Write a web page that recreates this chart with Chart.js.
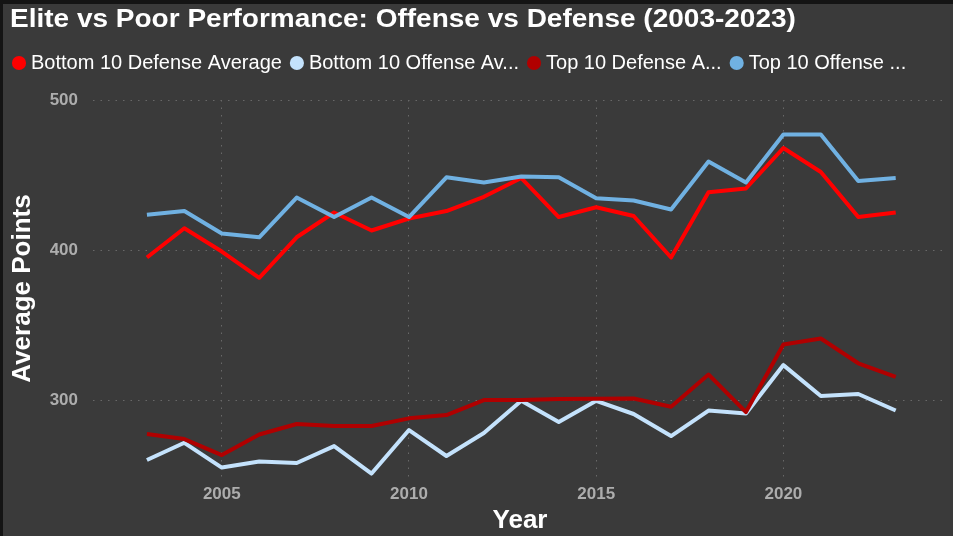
<!DOCTYPE html>
<html>
<head>
<meta charset="utf-8">
<script src="https://cdn.jsdelivr.net/npm/chart.js@4/dist/chart.umd.min.js"></script>
<style>
  body { margin: 0; background: #141414; }
  #wrap { position: relative; width: 953px; height: 536px; overflow: hidden; }
  #panel { position: absolute; left: 3px; top: 4px; right: 0; bottom: 0; background: #3a3a3a; }
  #chart { position: absolute; left: 0; top: 0; }
  #title {
    position: absolute; left: 10px; top: 4px;
    font: bold 25px "Liberation Sans", Arial, sans-serif;
    color: #ffffff; white-space: nowrap;
    transform: scaleX(1.12); transform-origin: left top;
  }
</style>
</head>
<body>
<div id="wrap">
  <div id="panel"></div>
  <canvas id="chart" width="953" height="536"></canvas>
  <div id="title">Elite vs Poor Performance: Offense vs Defense (2003-2023)</div>
</div>
<script>
// ===============================
// DATA
// ===============================
const years = [
  2003, 2004, 2005, 2006, 2007, 2008, 2009, 2010, 2011, 2012, 2013,
  2014, 2015, 2016, 2017, 2018, 2019, 2020, 2021, 2022, 2023,
];

const bottom10Defense = [
  395, 414.5, 399, 381.5, 408.5, 425, 413, 421, 426, 435.5, 448,
  422, 428.5, 422.7, 395, 438.5, 441, 468, 452, 422, 425,
];
const bottom10Offense = [
  260, 271.5, 255, 259, 258, 269.3, 251, 280, 262.7, 278, 299.5,
  285.3, 299.5, 290.7, 276, 293, 291, 323.3, 302.7, 304, 293,
];
const top10Defense = [
  277.3, 274, 263.3, 277, 284, 282.7, 282.7, 287.8, 290, 300, 300,
  300.7, 300.9, 301, 295.5, 317, 292, 337, 341, 324.5, 315.5,
];
const top10Offense = [
  423.5, 426, 411, 408.5, 435, 422, 435, 422, 448.5, 445, 449,
  448.5, 434.5, 433, 427, 459, 445, 477, 477, 446, 448,
];

const seriesNames = [
  "Bottom 10 Defense Average",
  "Bottom 10 Offense Average",
  "Top 10 Defense Average",
  "Top 10 Offense Average",
];
// legend shows the names cut short, like the original
const legendText = [
  "Bottom 10 Defense Average",
  "Bottom 10 Offense Av...",
  "Top 10 Defense A...",
  "Top 10 Offense ...",
];
const seriesColors = ["#ff0000", "#c4e2fc", "#b00000", "#70b1e2"];

const xTicks = [2005, 2010, 2015, 2020];
const yTicks = [300, 400, 500];

// ===============================
// CHART
// ===============================
const FONT = '"Liberation Sans", Arial, sans-serif';
const GRID = "#686868";

const allSeries = [bottom10Defense, bottom10Offense, top10Defense, top10Offense];

const datasets = allSeries.map((vals, i) => ({
  label: seriesNames[i],
  data: years.map((yr, j) => ({ x: yr, y: vals[j] })),
  borderColor: seriesColors[i],
  backgroundColor: seriesColors[i],
  borderWidth: 4,
  pointRadius: 0,
  tension: 0,
  borderJoinStyle: "round",
  order: allSeries.length - i,
}));

// push the plot down below the legend
const legendGap = {
  id: "legendGap",
  beforeInit(chart) {
    const fit = chart.legend.fit;
    chart.legend.fit = function () {
      fit.bind(chart.legend)();
      this.height += 17;
    };
  },
};

new Chart(document.getElementById("chart"), {
  type: "line",
  data: { datasets },
  plugins: [legendGap],
  options: {
    responsive: false,
    animation: false,
    layout: { padding: { left: 4, top: 40, right: 6, bottom: 0 } },
    plugins: {
      tooltip: { enabled: false },
      legend: {
        position: "top",
        align: "start",
        labels: {
          usePointStyle: true,
          boxWidth: 4,
          boxHeight: 10,
          padding: 13,
          color: "#ffffff",
          font: { family: FONT, size: 20 },
          generateLabels: (chart) =>
            chart.data.datasets.map((ds, i) => ({
              text: legendText[i],
              fillStyle: ds.borderColor,
              strokeStyle: ds.borderColor,
              lineWidth: 0,
              pointStyle: "circle",
              hidden: false,
              datasetIndex: i,
              fontColor: "#ffffff",
            })),
        },
      },
    },
    scales: {
      x: {
        type: "linear",
        min: 2001.56,
        max: 2024.37,
        afterBuildTicks: (axis) => {
          axis.ticks = xTicks.map((v) => ({ value: v }));
        },
        afterFit: (axis) => {
          axis.height = 59;
        },
        ticks: {
          color: "#adadad",
          padding: 7,
          font: { family: FONT, size: 17, weight: "bold" },
          callback: (v) => String(v),
        },
        grid: {
          color: GRID,
          drawTicks: false,
        },
        border: { display: false, dash: [1.5, 6] },
        title: {
          display: true,
          text: "Year",
          color: "#ffffff",
          padding: { top: 0, bottom: 0 },
          font: { family: FONT, size: 26, weight: "bold" },
        },
      },
      y: {
        min: 248.7,
        max: 500,
        afterBuildTicks: (axis) => {
          axis.ticks = yTicks.map((v) => ({ value: v }));
        },
        afterFit: (axis) => {
          axis.width = 89;
        },
        ticks: {
          color: "#adadad",
          padding: 15,
          font: { family: FONT, size: 17, weight: "bold" },
        },
        grid: {
          color: GRID,
          drawTicks: false,
        },
        border: { display: false, dash: [1.5, 6] },
        title: {
          display: true,
          text: "Average Points",
          color: "#ffffff",
          padding: { top: 3, bottom: 0 },
          font: { family: FONT, size: 26, weight: "bold" },
        },
      },
    },
  },
});
</script>
</body>
</html>
